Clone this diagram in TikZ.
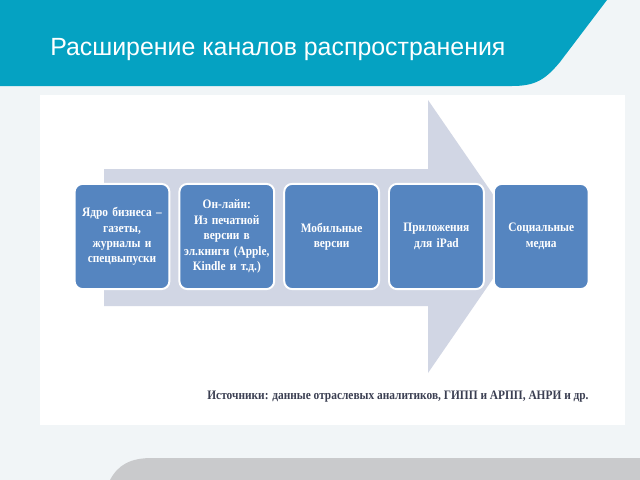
\documentclass[tikz,border=0pt]{standalone}
\usepackage{fontspec}
\setmainfont{Liberation Serif}
\newfontfamily\narrowserif[FakeStretch=0.88]{Liberation Serif}
\newfontfamily\titlefont{Liberation Sans}
\usetikzlibrary{positioning}

\definecolor{headteal}{HTML}{05A2C2}
\definecolor{pagebg}{HTML}{F1F5F7}
\definecolor{arrowgray}{HTML}{D1D6E4}
\definecolor{boxblue}{HTML}{5585C0}
\definecolor{footgray}{HTML}{C9CACC}
\definecolor{srcgray}{HTML}{3B3F52}

\begin{document}
\begin{tikzpicture}[x=0.025cm,y=-0.025cm,
	stage/.style={draw=white,line width=1.4pt,fill=boxblue,rounded corners=0.2cm,
		minimum width=2.35cm,minimum height=2.63cm,text width=2.3cm,align=center,
		text=white,font=\narrowserif\bfseries\fontsize{9.2}{11}\selectfont,inner sep=1pt},
	node distance=0.2cm]
	\useasboundingbox (0,0) rectangle (640,480);

	% background, panel and bands
	\fill[pagebg] (0,0) rectangle (640,480);
	\fill[white] (40,95) rectangle (625,425);
	\fill[headteal] (0,0) -- (607,0) -- (560,62)
		.. controls (545,80) and (535,86) .. (512,86) -- (0,86) -- cycle;
	\fill[footgray] (110,480) .. controls (118,465) and (130,458) .. (152,458)
		-- (640,458) -- (640,480) -- cycle;
	\node[anchor=base west,inner sep=0pt,text=white,font=\titlefont\fontsize{17.7}{20}\selectfont]
		(title) at (50,55) {Расширение каналов распространения};

	% big arrow behind the stages
	\fill[arrowgray] (104,169) -- (428,169) -- (428,100) -- (522,236.5)
		-- (428,373) -- (428,306) -- (104,306) -- cycle;

	\node[stage] (sA) at (122,236.5) {Ядро бизнеса –\\газеты,\\журналы и\\спецвыпуски};
	\node[stage,right=of sA] (sB) {Он-лайн:\\Из печатной\\версии в\\эл.книги (Apple,\\Kindle и т.д.)};
	\node[stage,right=of sB] (sC) {Мобильные\\версии};
	\node[stage,right=of sC] (sD) {Приложения\\для iPad};
	\node[stage,right=of sD] (sE) {Социальные\\медиа};

	\node[text=srcgray,font=\narrowserif\bfseries\fontsize{9.2}{11}\selectfont,inner sep=0pt]
		(src) at (398,397) {Источники: данные отраслевых аналитиков, ГИПП и АРПП, АНРИ и др.};
\end{tikzpicture}
\end{document}
